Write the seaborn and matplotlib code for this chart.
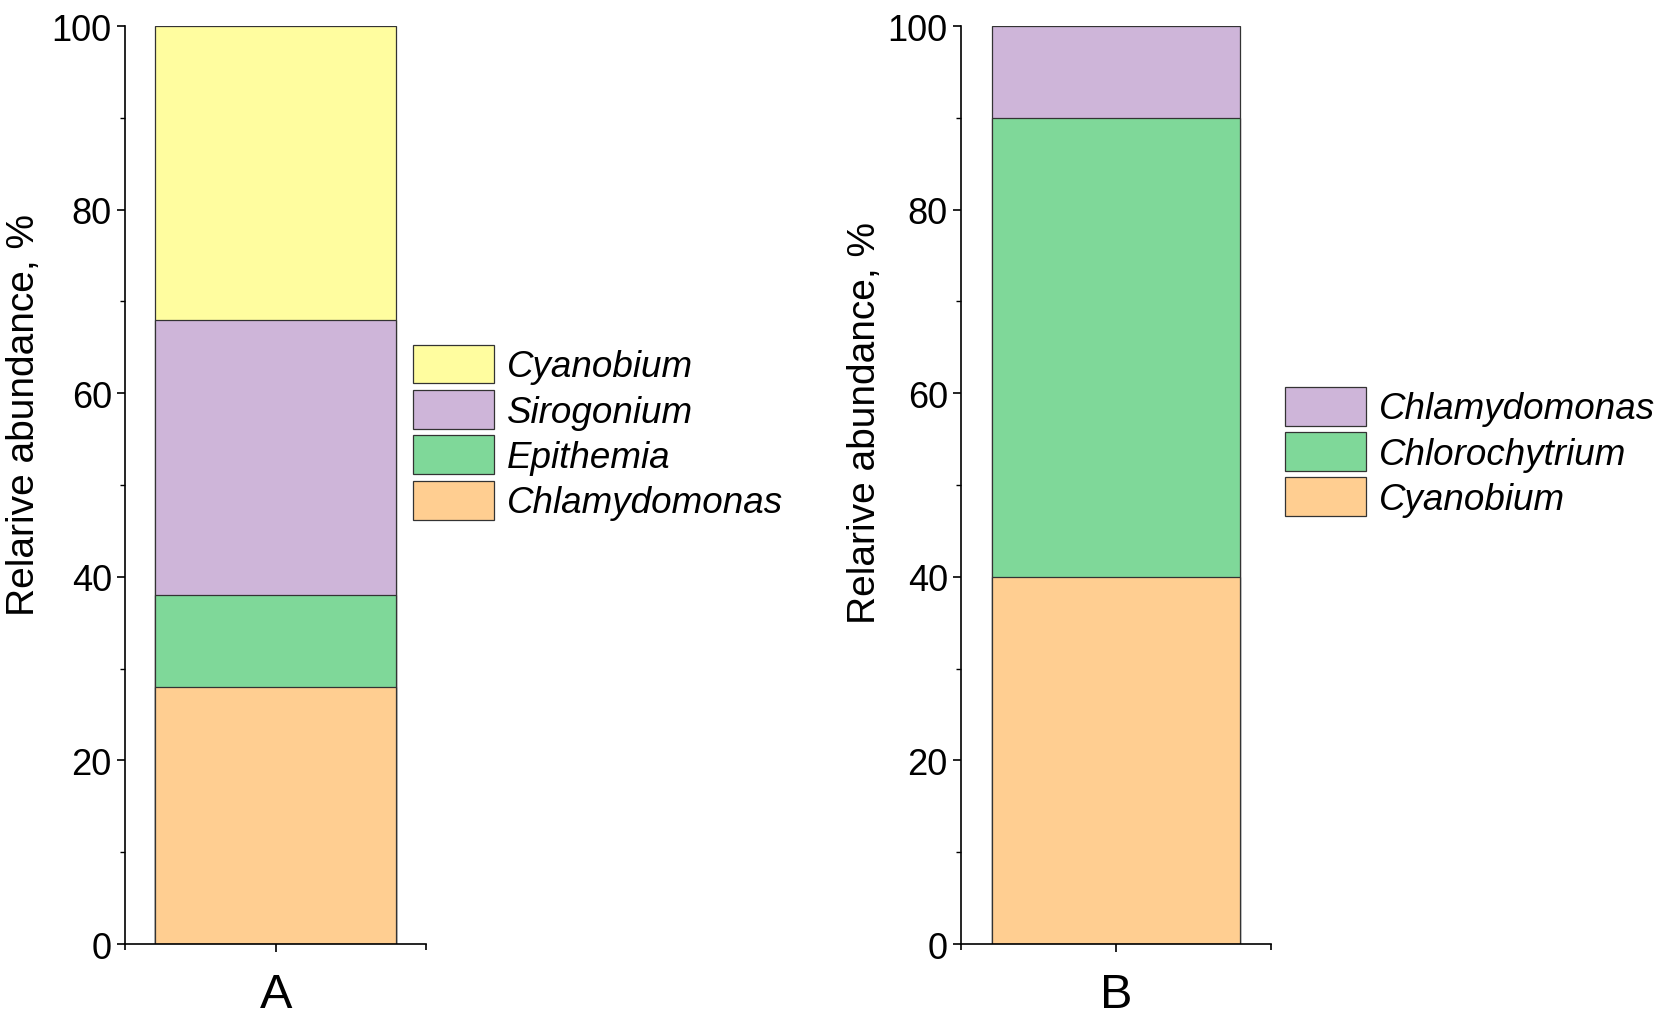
import numpy as np
import pandas as pd
import matplotlib
matplotlib.use("Agg")
import matplotlib.pyplot as plt
import seaborn as sns
from matplotlib.patches import Patch
from matplotlib.ticker import MultipleLocator, FixedLocator

# ---------------------------------------------------------
# data (bottom of the stack first)
# ---------------------------------------------------------
sample_a = "A"
taxa_a = ["Chlamydomonas", "Epithemia", "Sirogonium", "Cyanobium"]
values_a = [28, 10, 30, 32]

sample_b = "B"
taxa_b = ["Cyanobium", "Chlorochytrium", "Chlamydomonas"]
values_b = [40, 50, 10]

# colours follow stack position, not taxon
stack_colors = ["#FFCE91", "#7FD899", "#CEB5D9", "#FFFD9F"]

sns.set_style("ticks")
plt.rcParams["font.family"] = ["Liberation Sans", "DejaVu Sans"]
plt.rcParams["text.color"] = "black"
plt.rcParams["axes.labelcolor"] = "black"
plt.rcParams["axes.edgecolor"] = "black"
plt.rcParams["xtick.color"] = "black"
plt.rcParams["ytick.color"] = "black"

fig = plt.figure(figsize=(16.75, 10.2), dpi=100)
ax_a = fig.add_axes([0.0746, 0.0735, 0.180, 0.90])
ax_b = fig.add_axes([0.5737, 0.0735, 0.185, 0.90])


def stacked(ax, sample, taxa, values, legend_xy, label_xy):
    df = pd.DataFrame({"sample": sample, "taxon": taxa, "value": values})
    df["top"] = df["value"].cumsum()
    # draw tallest cumulative bar first, smaller ones over it
    for i in range(len(df) - 1, -1, -1):
        sns.barplot(
            data=df.iloc[[i]], x="sample", y="top", ax=ax,
            color=stack_colors[i], saturation=1, width=0.8,
            edgecolor="#333333", linewidth=0.9,
        )
    ax.set_xlim(-0.5, 0.5)
    ax.set_ylim(0, 100)
    ax.yaxis.set_major_locator(MultipleLocator(20))
    ax.yaxis.set_minor_locator(MultipleLocator(10))
    ax.xaxis.set_minor_locator(FixedLocator([-0.5, 0.5]))
    ax.tick_params(axis="y", which="major", labelsize=26, length=6, width=1.2, direction="out")
    ax.tick_params(axis="y", which="minor", length=3.5, width=1.0, direction="out")
    ax.tick_params(axis="x", which="major", labelsize=35, length=6, width=1.2, pad=14)
    ax.tick_params(axis="x", which="minor", length=4, width=1.2)
    ax.set_xlabel("")
    ax.set_ylabel("Relarive abundance, %", fontsize=28)
    ax.yaxis.set_label_coords(*label_xy)
    for s in ["left", "bottom"]:
        ax.spines[s].set_linewidth(1.2)
    sns.despine(ax=ax)

    handles = [
        Patch(facecolor=stack_colors[i], edgecolor="#333333", linewidth=0.9, label=taxa[i])
        for i in range(len(taxa) - 1, -1, -1)
    ]
    fig.legend(
        handles=handles, loc="center left", bbox_to_anchor=legend_xy,
        frameon=False, prop={"size": 26.5, "style": "italic"},
        handlelength=2.2, handleheight=1.25, labelspacing=0.15,
        handletextpad=0.35, borderpad=0, borderaxespad=0,
    )


stacked(ax_a, sample_a, taxa_a, values_a, (0.2465, 0.575), (-0.275, 0.577))
stacked(ax_b, sample_b, taxa_b, values_b, (0.767, 0.556), (-0.25, 0.569))

fig.savefig("out.png", dpi=100)
